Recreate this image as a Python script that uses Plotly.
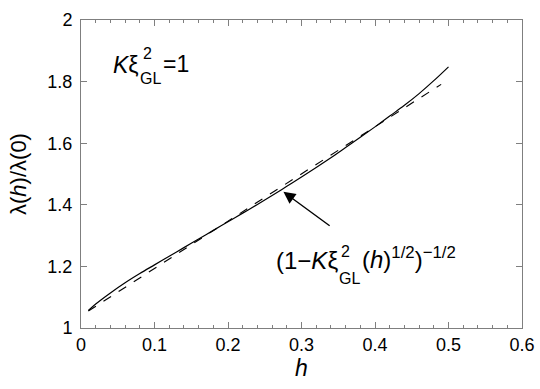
import plotly.graph_objects as go

# λ(h)/λ(0)
h_solid = [0.01, 0.02, 0.04, 0.06, 0.08, 0.10, 0.12, 0.14, 0.16, 0.18, 0.20, 0.22, 0.24,
           0.26, 0.28, 0.30, 0.32, 0.34, 0.36, 0.38, 0.40, 0.42, 0.44, 0.46, 0.48, 0.50]
lam_solid = [1.057, 1.078, 1.114, 1.147, 1.177, 1.205, 1.233, 1.261, 1.289, 1.317, 1.345, 1.373, 1.401,
             1.430, 1.460, 1.490, 1.521, 1.553, 1.586, 1.619, 1.653, 1.688, 1.723, 1.761, 1.803, 1.848]

# approximation curve (dashed)
h_approx = [0.01, 0.05, 0.10, 0.15, 0.20, 0.25, 0.30, 0.35, 0.40, 0.45, 0.49]
lam_approx = [1.055, 1.117, 1.193, 1.270, 1.347, 1.424, 1.500, 1.577, 1.653, 1.730, 1.791]

FONT = "Liberation Sans, Arial, Helvetica, sans-serif"
AXC = "#7f7f7f"

# plot area in pixels (for placing labels)
L, R, T, B = 81, 521.7, 20, 327.7


def px(x, y):
    return (x - L) / (R - L), (B - y) / (B - T)


fig = go.Figure()
fig.add_trace(go.Scatter(x=h_solid, y=lam_solid, mode="lines", line_shape="spline",
                         line=dict(color="black", width=1.2), showlegend=False))
fig.add_trace(go.Scatter(x=h_approx, y=lam_approx, mode="lines",
                         line=dict(color="black", width=1.1, dash="9px,9px"), showlegend=False))

axis_common = dict(showline=True, linecolor=AXC, linewidth=1, mirror="ticks",
                   ticks="inside", tickcolor=AXC, showgrid=False, zeroline=False,
                   automargin=False,
                   tickfont=dict(family=FONT, size=18, color="black"))

fig.update_xaxes(range=[0, 0.6], dtick=0.1, ticklen=6, tickformat="~g",
                 minor=dict(dtick=0.02, ticks="inside", ticklen=3, tickcolor=AXC),
                 title=dict(text="<i>h</i>", font=dict(family=FONT, size=23), standoff=6),
                 **axis_common)
fig.update_yaxes(range=[1, 2], dtick=0.2, ticklen=6, tickformat="~g",
                 ticklabelstandoff=4,
                 title=dict(text="λ(<i>h</i>)/λ(0)", font=dict(family=FONT, size=22), standoff=14),
                 **axis_common)


def label(text, x, y, size):
    xp, yp = px(x - 2, y)
    fig.add_annotation(text=text, x=xp, y=yp, xref="paper", yref="paper",
                       xanchor="left", yanchor="middle", showarrow=False,
                       font=dict(family=FONT, size=size, color="black"))


# K xi_GL^2 = 1  (super/subscript stacked on xi)
label("<i>K</i>ξ", 113, 65, 23)
label("2", 143, 53, 16)
label("GL", 140, 78, 16)
label("=1", 163, 64, 23)

# (1 - K xi_GL^2 (h)^1/2)^-1/2
label("(1−<i>K</i>ξ", 276, 260, 24)
label("2", 341, 251, 16)
label("GL", 339, 278, 16)
label("(<i>h</i>)<sup>1/2</sup>)<sup>−1/2</sup>", 362, 258, 24)

# arrow pointing to the curve
tx, ty = px(283.3, 191.7)
fig.add_annotation(x=tx, y=ty, xref="paper", yref="paper", ax=47.7, ay=35,
                   text="", showarrow=True, arrowhead=2, arrowsize=1.7,
                   arrowwidth=1.4, arrowcolor="black")

fig.update_layout(width=540, height=389,
                  margin=dict(l=L, r=540 - R, t=T, b=389 - B),
                  plot_bgcolor="white", paper_bgcolor="white",
                  font=dict(family=FONT, color="black"))

# page body margin would shift the figure
fig.write_html("out.html", config={"displayModeBar": False},
               post_script="document.body.style.margin='0';document.body.style.overflow='hidden';")
